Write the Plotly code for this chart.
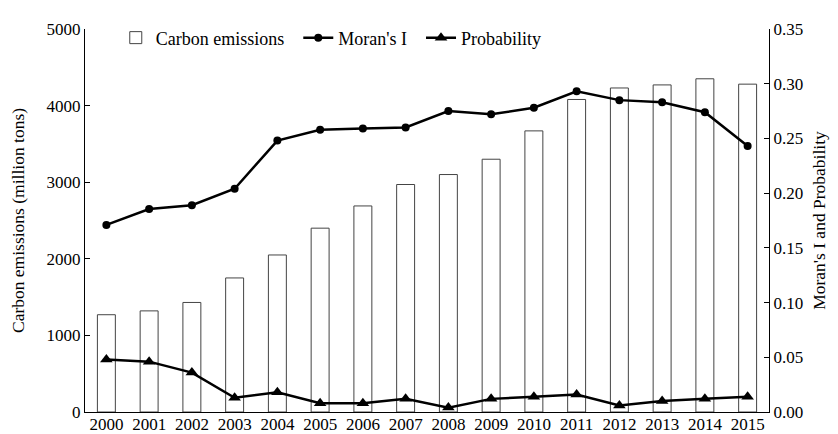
import plotly.graph_objects as go

years = [str(y) for y in range(2000, 2016)]
carbon = [1270, 1320, 1430, 1750, 2050, 2400, 2690, 2970, 3100, 3300, 3670, 4080, 4230, 4270, 4350, 4280]
morans_i = [0.171, 0.1855, 0.189, 0.204, 0.248, 0.258, 0.259, 0.260, 0.275, 0.272, 0.278, 0.293, 0.285, 0.283, 0.274, 0.243]
probability = [0.048, 0.046, 0.036, 0.013, 0.018, 0.008, 0.008, 0.012, 0.004, 0.012, 0.014, 0.016, 0.006, 0.010, 0.012, 0.014]

tickfont = dict(family="Liberation Serif", size=17, color="black")
font = dict(family="Liberation Serif", size=17.5, color="black")
legfont = dict(family="Liberation Serif", size=18, color="black")

NB = "\u00a0\u00a0"

fig = go.Figure()
fig.add_trace(go.Bar(x=years, y=carbon, name="Carbon emissions" + NB, width=0.42,
                     marker=dict(color="white", line=dict(color="#444", width=1))))
fig.add_trace(go.Scatter(x=years, y=morans_i, name="Moran's I" + NB, yaxis="y2", mode="lines+markers",
                         line=dict(color="black", width=2.5),
                         marker=dict(symbol="circle", size=8, color="black")))
fig.add_trace(go.Scatter(x=years, y=probability, name="Probability", yaxis="y2", mode="lines+markers",
                         line=dict(color="black", width=2.5),
                         marker=dict(symbol="triangle-up", size=11, color="black")))

# the page body has an 8px margin, so the figure is sized/offset to compensate
fig.update_layout(
    width=830, height=426,
    margin=dict(l=77, r=69, t=11, b=22),
    paper_bgcolor="white", plot_bgcolor="white",
    font=font,
    showlegend=True,
    legend=dict(orientation="h", x=0.045, y=1.025, xanchor="left", yanchor="top",
                bgcolor="rgba(0,0,0,0)", font=legfont, itemwidth=30, traceorder="normal"),
    xaxis=dict(range=[-0.5, 15.5], showline=True, linecolor="black", linewidth=1, automargin=False,
               ticks="", showgrid=False, tickfont=tickfont, ticklabelstandoff=-3),
    yaxis=dict(range=[0, 5000], dtick=1000, showline=True, linecolor="black", linewidth=1, automargin=False,
               ticks="inside", ticklen=5, tickcolor="black", showgrid=False, zeroline=False,
               title=dict(text="Carbon emissions (million tons)", font=font, standoff=17),
               tickfont=tickfont),
    yaxis2=dict(range=[0, 0.35], dtick=0.05, tickformat=".2f", overlaying="y", side="right",
                showline=True, linecolor="black", linewidth=1, automargin=False,
                ticks="inside", ticklen=5, tickcolor="black", showgrid=False, zeroline=False,
                title=dict(text="Moran's I and Probability", font=font, standoff=10),
                tickfont=tickfont),
)

fig.write_html("out.html")
